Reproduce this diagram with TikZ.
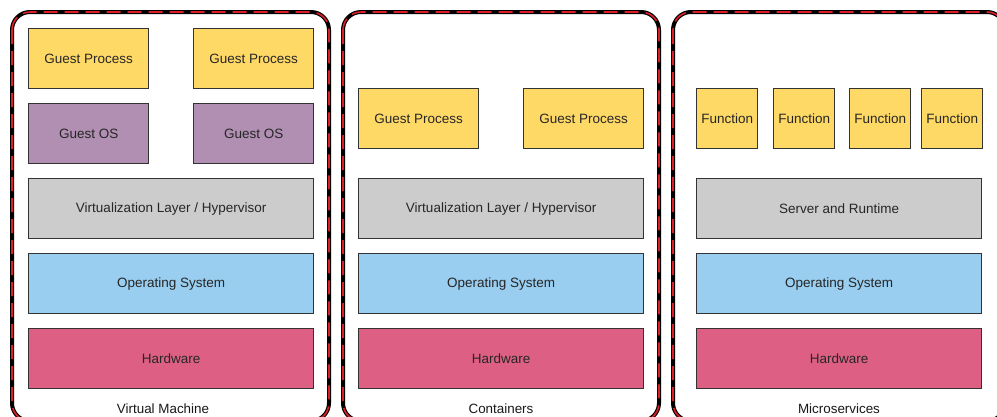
\documentclass[tikz,border=0pt]{standalone}
\usepackage{fontspec}
\setmainfont{Liberation Sans}
\definecolor{procfill}{RGB}{255,217,102}
\definecolor{osfill}{RGB}{177,143,178}
\definecolor{layerfill}{RGB}{204,204,204}
\definecolor{hostfill}{RGB}{153,206,240}
\definecolor{hwfill}{RGB}{221,96,132}
\definecolor{edge}{RGB}{51,51,51}
\definecolor{dashred}{RGB}{220,30,40}
\tikzset{
  block/.style={draw=edge, line width=1.3pt, anchor=north west, inner sep=0pt,
    text=black!85, font=\fontsize{13.5}{15}\selectfont, align=center},
  proc/.style={block, fill=procfill, minimum width=120pt, minimum height=60pt},
  func/.style={block, fill=procfill, minimum width=61pt, minimum height=60pt},
  guestos/.style={block, fill=osfill, minimum width=120pt, minimum height=60pt},
  layer/.style={block, minimum height=60pt},
  frameouter/.style={draw=black, line width=4pt, rounded corners=18pt},
  frameinner/.style={draw=dashred, line width=1.6pt, dash pattern=on 14pt off 7pt, rounded corners=18pt},
  caption/.style={font=\fontsize{13.4}{15}\selectfont, text=black!90, inner sep=0pt}
}
\begin{document}
\begin{tikzpicture}[x=1pt,y=-1pt]
\useasboundingbox (0,0) rectangle (997,416);
\fill[white] (0,0) rectangle (997,416);
\begin{scope}
\clip (0,0) rectangle (997,416);
% outer frames: black band with red dashes on top
\foreach \l/\r in {12/329, 343/659, 673/1005}{
  \draw[frameouter] (\l,12) rectangle (\r,421);
  \draw[frameinner] (\l,12) rectangle (\r,421);
}
\end{scope}

% Virtual Machine stack
\node[proc] (vmp1) at (28,28) {Guest Process};
\node[proc] (vmp2) at (193,28) {Guest Process};
\node[guestos] (vmos1) at (28,103) {Guest OS};
\node[guestos] (vmos2) at (193,103) {Guest OS};
\node[layer, fill=layerfill, minimum width=285pt] (vmhyp) at (28,178) {Virtualization Layer / Hypervisor};
\node[layer, fill=hostfill, minimum width=285pt] (vmhost) at (28,253) {Operating System};
\node[layer, fill=hwfill, minimum width=285pt] (vmhw) at (28,328) {Hardware};
\node[caption] (vmcap) at (163,409) {Virtual Machine};

% Containers stack
\node[proc] (ctp1) at (358,88) {Guest Process};
\node[proc] (ctp2) at (523,88) {Guest Process};
\node[layer, fill=layerfill, minimum width=285pt] (cthyp) at (358,178) {Virtualization Layer / Hypervisor};
\node[layer, fill=hostfill, minimum width=285pt] (cthost) at (358,253) {Operating System};
\node[layer, fill=hwfill, minimum width=285pt] (cthw) at (358,328) {Hardware};
\node[caption] (ctcap) at (501,409) {Containers};

% Microservices stack
\node[func] (msf1) at (696,88) {Function};
\node[func] (msf2) at (773,88) {Function};
\node[func] (msf3) at (849,88) {Function};
\node[func] (msf4) at (921,88) {Function};
\node[layer, fill=layerfill, minimum width=285pt] (msrt) at (696,178) {Server and Runtime};
\node[layer, fill=hostfill, minimum width=285pt] (mshost) at (696,253) {Operating System};
\node[layer, fill=hwfill, minimum width=285pt] (mshw) at (696,328) {Hardware};
\node[caption] (mscap) at (839,409) {Microservices};
\end{tikzpicture}
\end{document}
